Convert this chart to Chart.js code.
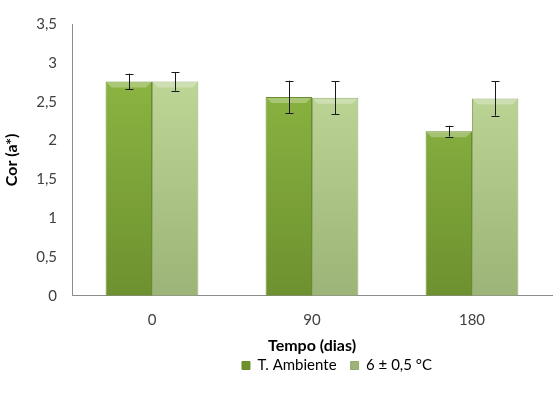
<!DOCTYPE html>
<html>
<head>
<meta charset="utf-8">
<script src="https://cdn.jsdelivr.net/npm/chart.js@4"></script>
<style>
  html, body { margin: 0; padding: 0; background: #fff; }
  #wrap { width: 553px; height: 399px; }
</style>
</head>
<body>
<div id="wrap"><canvas id="corChart"></canvas></div>
<script>
var dias = ['0', '90', '180'];
var seriesNames = ['T. Ambiente', '6 \u00b1 0,5 \u00b0C'];
var ambiente = [2.76, 2.56, 2.12];
var ambienteErr = [0.10, 0.21, 0.07];
var refrigerado = [2.76, 2.55, 2.54];
var refrigeradoErr = [0.12, 0.21, 0.22];
var yTicks = [0, 0.5, 1, 1.5, 2, 2.5, 3, 3.5];

var FONT = 'Lato, "Open Sans", sans-serif';

// vertical gradient for each bar, solid colour for legend boxes
var barFill = function (top, bottom) {
    return function (context) {
        var chart = context.chart;
        if (context.type !== 'data' || !chart.chartArea) return top;
        var area = chart.chartArea;
        var g = chart.ctx.createLinearGradient(0, area.top, 0, area.bottom);
        g.addColorStop(0, top);
        g.addColorStop(1, bottom);
        return g;
    };
};

// error bars + small bevel on top of each bar
var errorBarPlugin = {
    id: 'errorBars',
    afterDatasetsDraw: function (chart) {
        var ctx = chart.ctx;
        var yScale = chart.scales.y;
        chart.data.datasets.forEach(function (ds, di) {
            var meta = chart.getDatasetMeta(di);
            meta.data.forEach(function (bar, i) {
                var half = bar.width / 2;
                // light strip on the top edge
                ctx.save();
                ctx.fillStyle = 'rgba(255,255,255,0.28)';
                ctx.beginPath();
                ctx.moveTo(bar.x - half + 1, bar.y + 1);
                ctx.lineTo(bar.x + half - 1, bar.y + 1);
                ctx.lineTo(bar.x + half - 6, bar.y + 6);
                ctx.lineTo(bar.x - half + 6, bar.y + 6);
                ctx.closePath();
                ctx.fill();
                ctx.restore();

                var v = ds.data[i];
                var e = ds.errors[i];
                var yHi = yScale.getPixelForValue(v + e);
                var yLo = yScale.getPixelForValue(v - e);
                var cap = 4;
                var x = Math.round(bar.x) + 0.5;
                ctx.save();
                ctx.strokeStyle = '#1a1a1a';
                ctx.lineWidth = 1;
                ctx.beginPath();
                ctx.moveTo(x, yHi);
                ctx.lineTo(x, yLo);
                ctx.moveTo(x - cap, Math.round(yHi) + 0.5);
                ctx.lineTo(x + cap, Math.round(yHi) + 0.5);
                ctx.moveTo(x - cap, Math.round(yLo) + 0.5);
                ctx.lineTo(x + cap, Math.round(yLo) + 0.5);
                ctx.stroke();
                ctx.restore();
            });
        });
    }
};

// nudge the legend a little right and up
var legendShift = {
    id: 'legendShift',
    afterLayout: function (chart) {
        var lg = chart.legend;
        lg.left += 25;
        lg.right += 25;
        lg.top -= 11;
        lg.bottom -= 11;
    }
};

var formatTick = function (value) {
    return String(value).replace('.', ',');
};

new Chart(document.getElementById('corChart'), {
    type: 'bar',
    data: {
        labels: dias,
        datasets: [{
            label: seriesNames[0],
            data: ambiente,
            errors: ambienteErr,
            backgroundColor: barFill('#92bd46', '#6d912f'),
            borderColor: '#6a8c2e',
            borderWidth: 1
        }, {
            label: seriesNames[1],
            data: refrigerado,
            errors: refrigeradoErr,
            backgroundColor: barFill('#c6de9d', '#9cb477'),
            borderColor: '#93ab70',
            borderWidth: 1
        }]
    },
    options: {
        responsive: true,
        maintainAspectRatio: false,
        animation: false,
        layout: { padding: { top: 15, right: 1, bottom: 5, left: 2 } },
        datasets: {
            bar: { categoryPercentage: 0.58, barPercentage: 1.0 }
        },
        scales: {
            x: {
                grid: { display: false, drawTicks: false },
                border: { color: '#8c8c8c' },
                ticks: { color: '#404040', font: { family: FONT, size: 15 }, padding: 15 },
                title: {
                    display: true,
                    text: 'Tempo (dias)',
                    color: '#000',
                    font: { family: FONT, size: 16, weight: 'bold' },
                    padding: { top: -8, bottom: 0 }
                }
            },
            y: {
                min: 0,
                max: 3.5,
                afterBuildTicks: function (scale) {
                    scale.ticks = yTicks.map(function (v) { return { value: v }; });
                },
                grid: { display: false, drawTicks: false },
                border: { color: '#8c8c8c' },
                ticks: {
                    color: '#404040',
                    font: { family: FONT, size: 15 },
                    padding: 15,
                    callback: formatTick
                },
                title: {
                    display: true,
                    text: 'Cor (a*)',
                    color: '#000',
                    font: { family: FONT, size: 16, weight: 'bold' },
                    padding: { top: 0, bottom: 0 }
                }
            }
        },
        plugins: {
            legend: {
                position: 'bottom',
                fullSize: false,
                labels: {
                    boxWidth: 8,
                    boxHeight: 8,
                    padding: 14,
                    color: '#000',
                    font: { family: FONT, size: 15 }
                }
            },
            tooltip: { enabled: false }
        }
    },
    plugins: [errorBarPlugin, legendShift]
});
</script>
</body>
</html>
